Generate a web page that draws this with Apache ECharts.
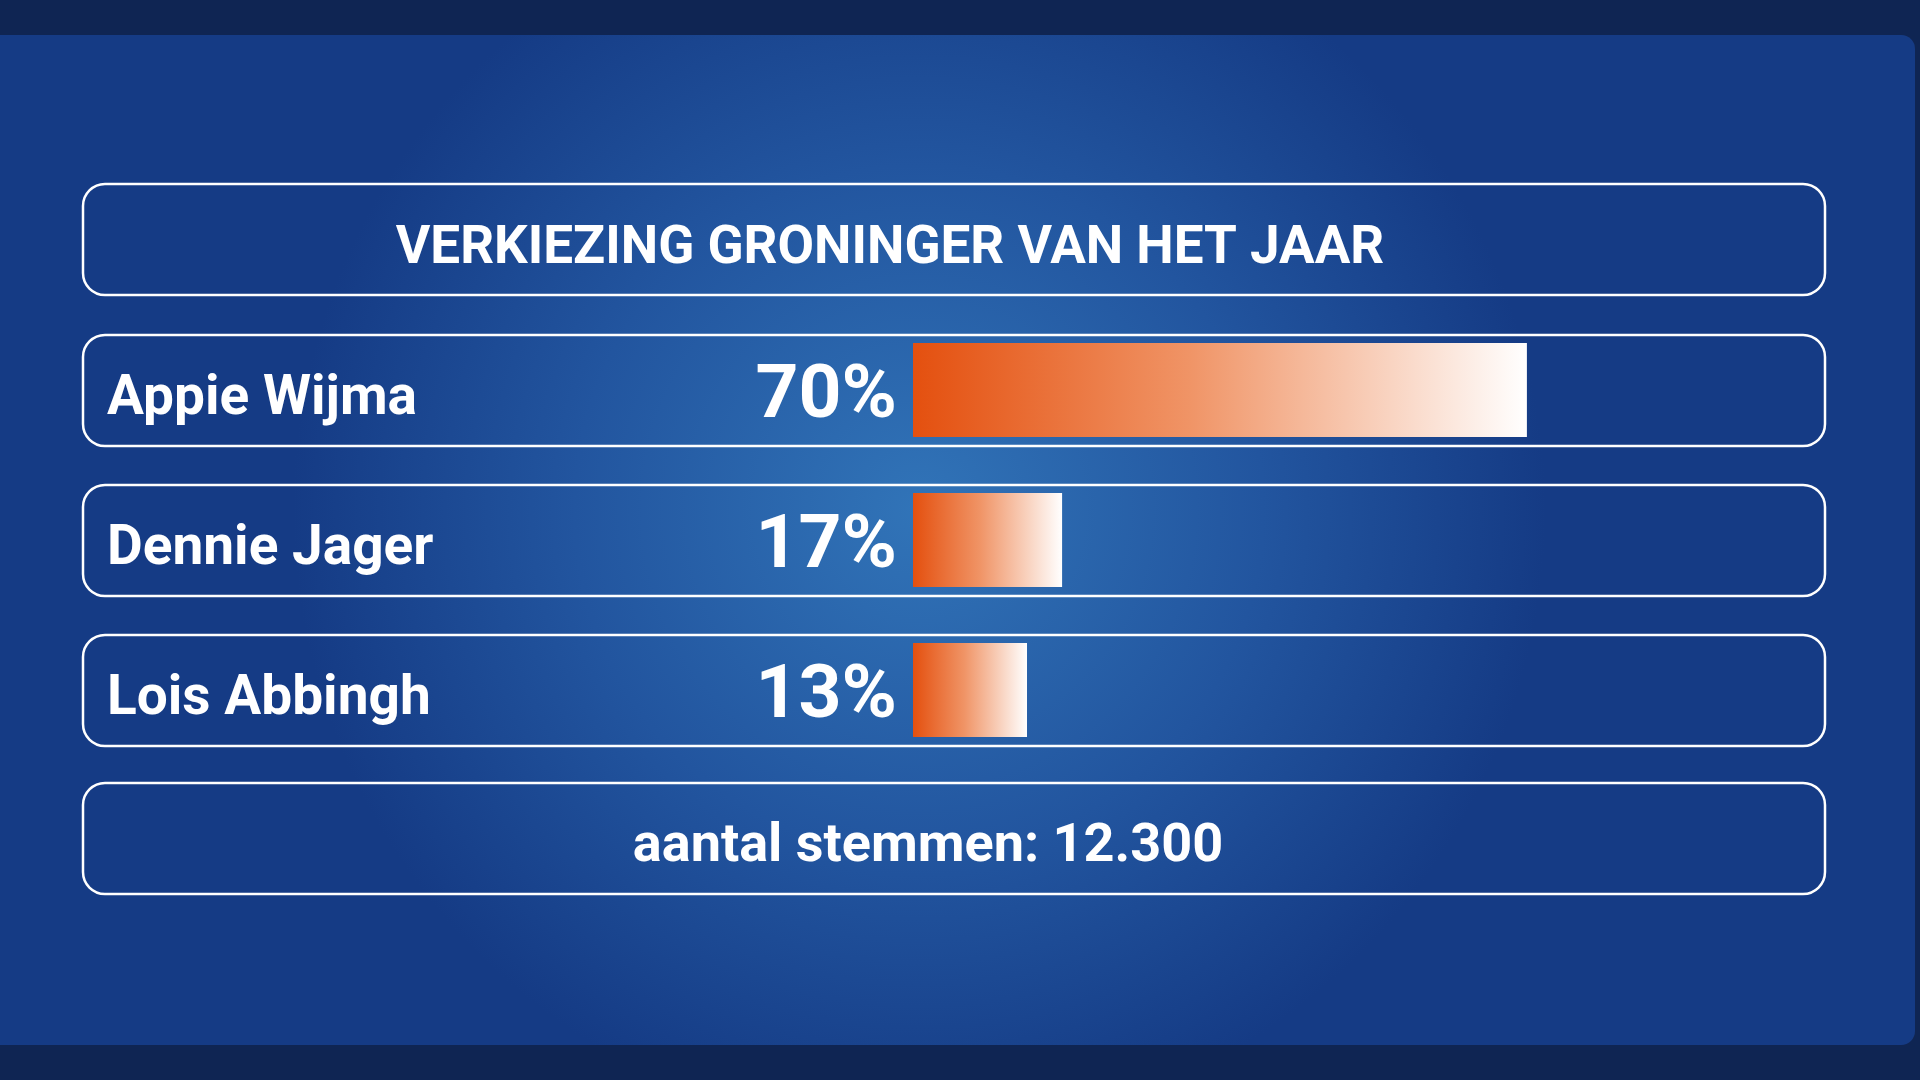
<!DOCTYPE html>
<html>
<head>
<meta charset="utf-8">
<script src="https://cdn.jsdelivr.net/npm/echarts@6/dist/echarts.min.js"></script>
<style>
html,body{margin:0;padding:0;background:#0f2553;}
#chart{width:1920px;height:1080px;}
</style>
</head>
<body>
<div id="chart"></div>
<script>
const titleText = 'VERKIEZING GRONINGER VAN HET JAAR';
const candidates = ['Appie Wijma', 'Dennie Jager', 'Lois Abbingh'];
const percentages = [70, 17, 13];
const footerLabel = 'aantal stemmen: ';
const totalVotes = '12.300';

const FONT = 'Roboto, "Noto Sans", sans-serif';
const chart = echarts.init(document.getElementById('chart'), null, {renderer: 'canvas'});

function box(y) {
  return {
    type: 'rect',
    shape: {x: 83, y: y, width: 1742, height: 111, r: 22},
    style: {fill: 'transparent', stroke: '#ffffff', lineWidth: 2.5},
    z: 1
  };
}

const option = {
  backgroundColor: '#0f2553',
  animation: false,
  grid: {left: 913, width: 877, top: 315, height: 450},
  xAxis: {type: 'value', min: 0, max: 100, show: false},
  yAxis: {
    type: 'category',
    data: candidates,
    inverse: true,
    axisLine: {show: false},
    axisTick: {show: false},
    splitLine: {show: false},
    axisLabel: {
      align: 'left',
      margin: 806,
      formatter: '{n|{value}}',
      rich: {
        n: {
          padding: [20, 0, 0, 0],
          color: '#ffffff',
          fontSize: 55,
          fontWeight: 'bold',
          fontFamily: FONT
        }
      },
      color: '#ffffff',
      fontSize: 55,
      fontWeight: 'bold',
      fontFamily: FONT
    }
  },
  series: [{
    type: 'bar',
    data: percentages,
    barWidth: 94,
    z: 5,
    itemStyle: {
      color: new echarts.graphic.LinearGradient(0, 0, 1, 0, [
        {offset: 0, color: '#e4500f'},
        {offset: 0.45, color: '#f09466'},
        {offset: 1, color: '#ffffff'}
      ])
    },
    label: {
      show: true,
      position: 'left',
      distance: 16,
      offset: [0, 8],
      formatter: '{c}%',
      color: '#ffffff',
      fontSize: 75,
      fontWeight: 'bold',
      fontFamily: FONT
    }
  }],
  graphic: [
    {
      type: 'rect',
      shape: {x: 0, y: 35, width: 1915, height: 1010, r: [0, 14, 14, 0]},
      style: {
        fill: new echarts.graphic.RadialGradient(0.48, 0.47, 0.62, [
          {offset: 0, color: '#3174b8'},
          {offset: 0.55, color: '#22559f'},
          {offset: 1, color: '#153b85'}
        ])
      },
      z: -10
    },
    box(184), box(335), box(485), box(635), box(783),
    {
      type: 'text',
      x: 890, y: 250,
      style: {
        text: titleText,
        fill: '#ffffff',
        font: 'bold 53px ' + FONT,
        align: 'center',
        verticalAlign: 'middle'
      },
      z: 10
    },
    {
      type: 'text',
      x: 928, y: 847,
      style: {
        text: footerLabel + totalVotes,
        fill: '#ffffff',
        font: 'bold 54px ' + FONT,
        align: 'center',
        verticalAlign: 'middle'
      },
      z: 10
    }
  ]
};
chart.setOption(option);
</script>
</body>
</html>
